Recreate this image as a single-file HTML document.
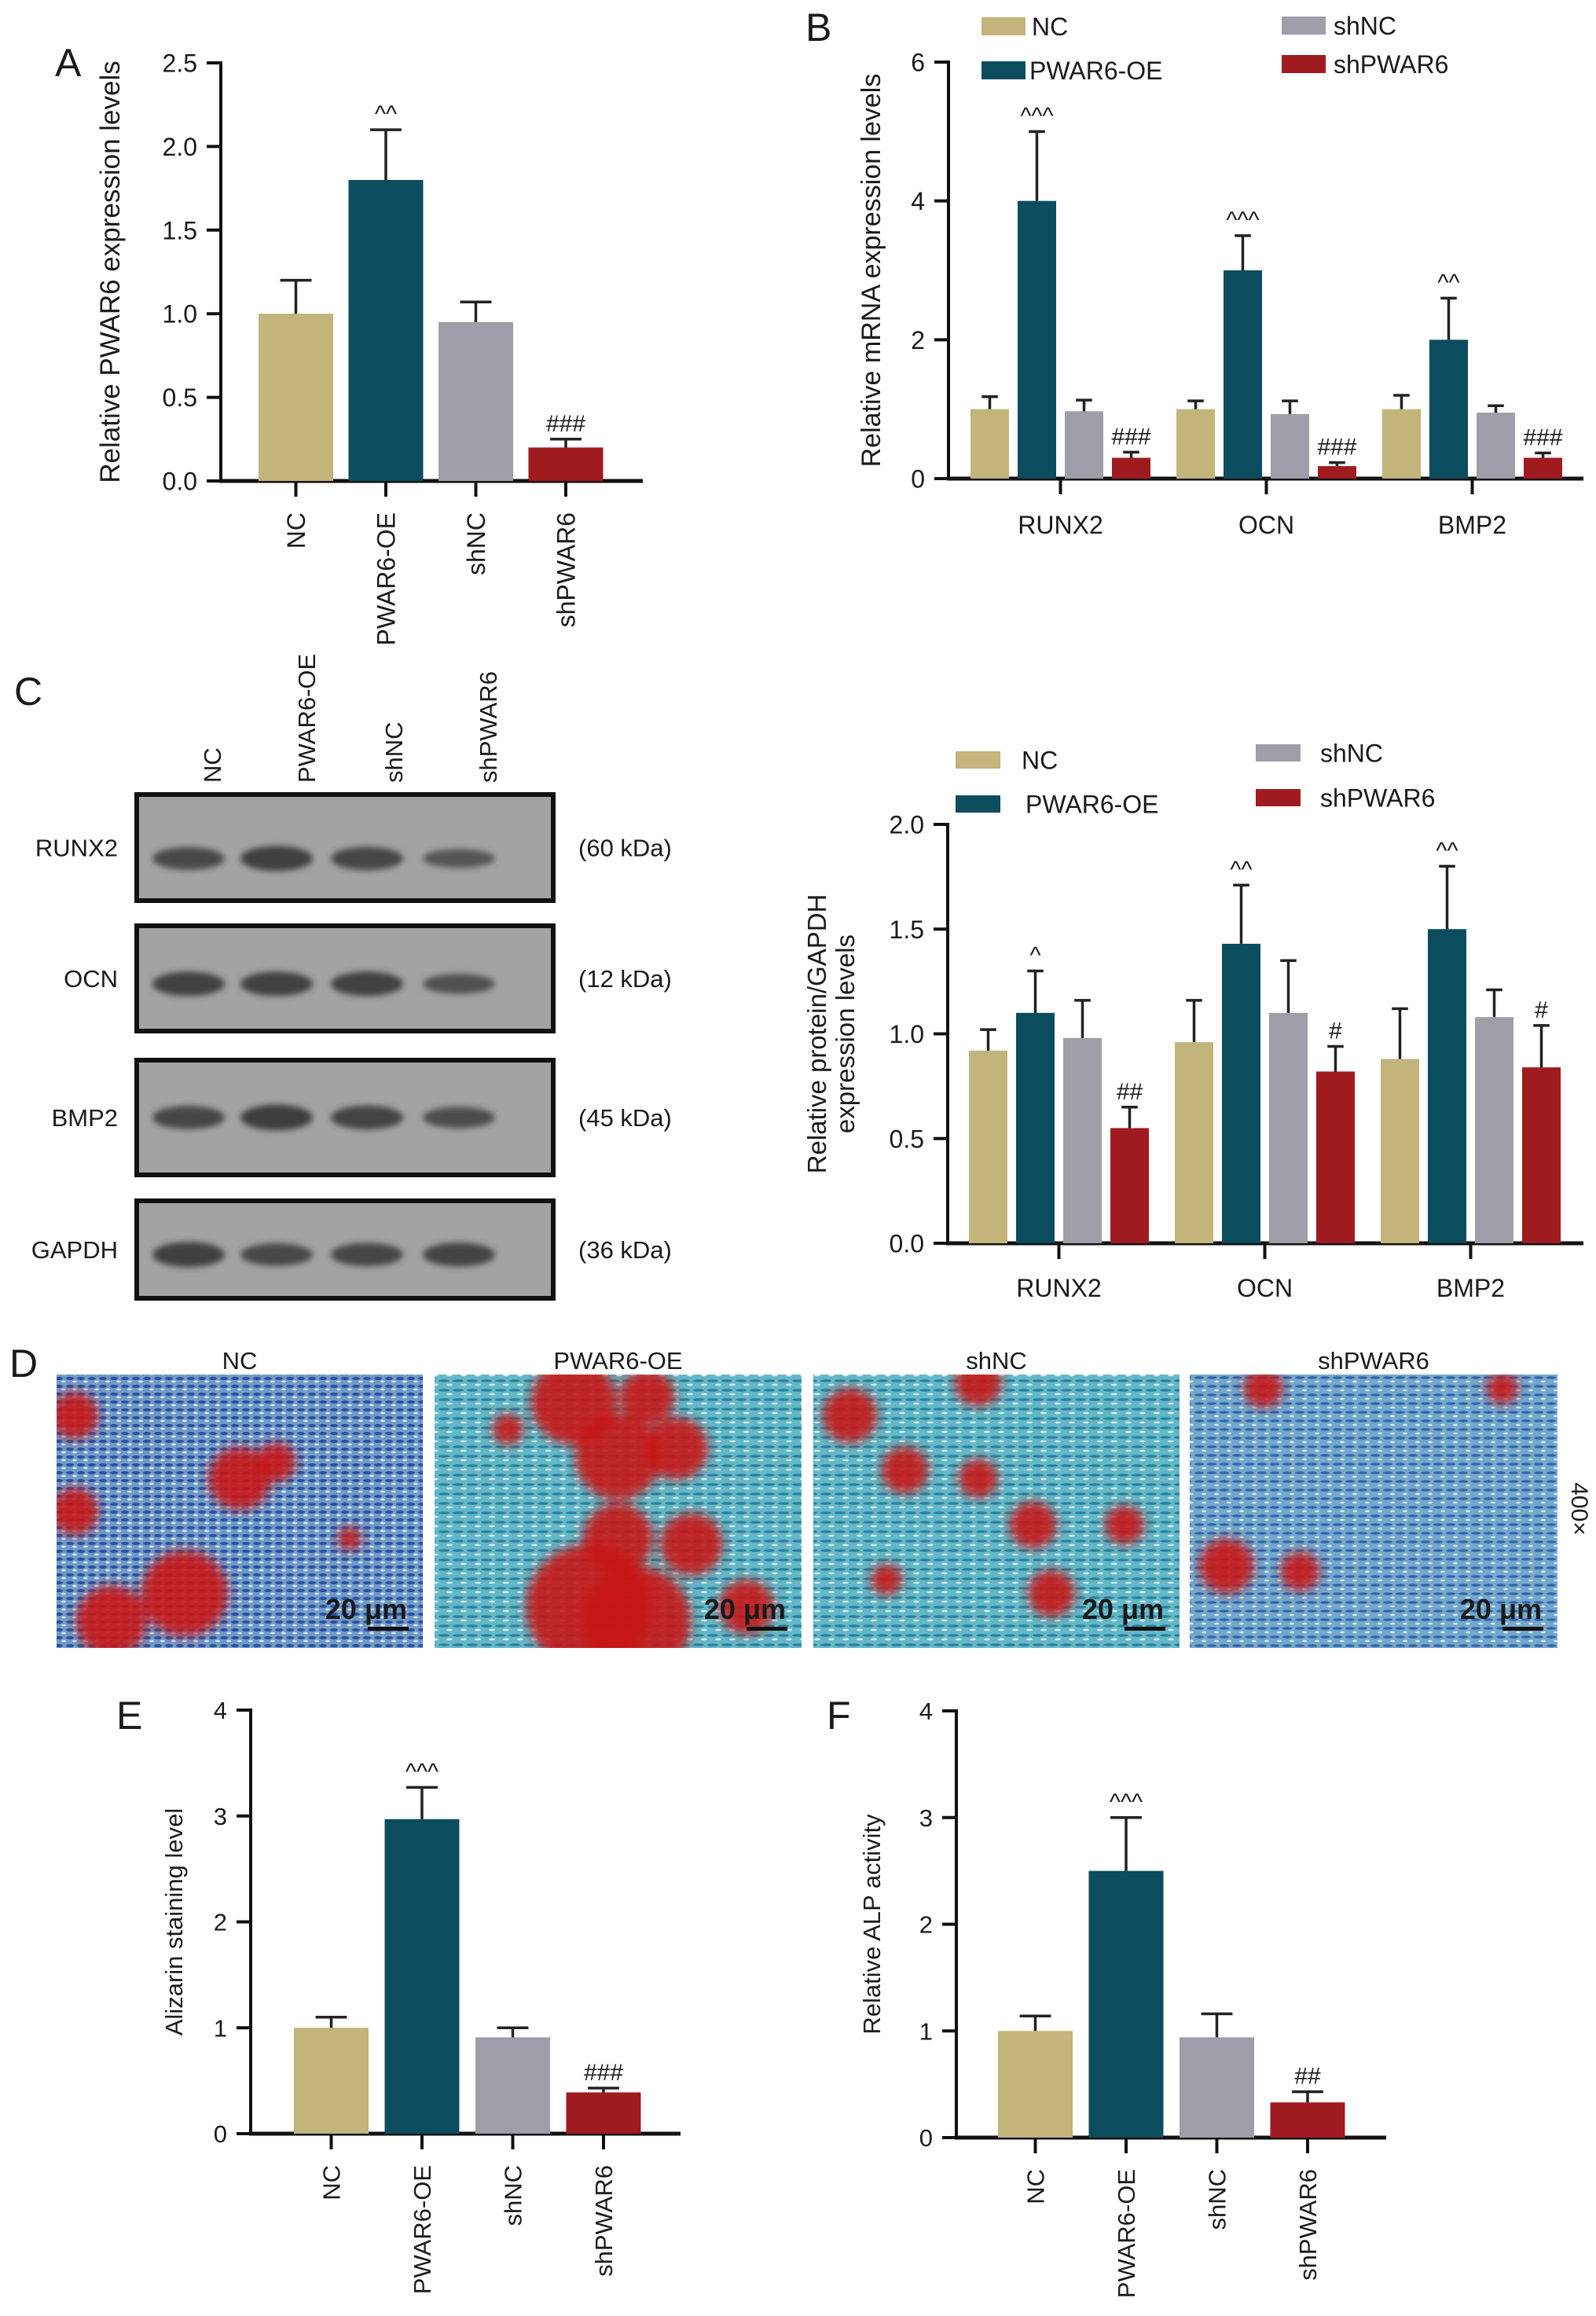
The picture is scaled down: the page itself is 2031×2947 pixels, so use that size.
<!DOCTYPE html>
<html><head><meta charset="utf-8"><style>
html,body{margin:0;padding:0;background:#fff}
svg{display:block}
text{font-family:"Liberation Sans",Arial,sans-serif;fill:#1a1a1a}
</style></head><body>
<svg id="fig" width="2031" height="2947" viewBox="0 0 2031 2947" xmlns="http://www.w3.org/2000/svg">
<defs>
<filter id="blur4" x="-20%" y="-50%" width="140%" height="200%"><feGaussianBlur stdDeviation="4"/></filter>
<filter id="blur8" x="-50%" y="-50%" width="200%" height="200%"><feGaussianBlur stdDeviation="7"/></filter>
<pattern id="cellsA" width="14" height="10" patternUnits="userSpaceOnUse"><rect width="14" height="10" fill="#6f9ac8"/><ellipse cx="5" cy="4" rx="5" ry="2" fill="#2a4fa0"/><ellipse cx="11" cy="8" rx="3" ry="1.5" fill="#d8e4ee"/></pattern>
<pattern id="cellsB" width="18" height="12" patternUnits="userSpaceOnUse"><rect width="18" height="12" fill="#63b8c8"/><ellipse cx="7" cy="5" rx="7" ry="1.8" fill="#2f7f99"/><ellipse cx="14" cy="10" rx="4" ry="1.4" fill="#d6eef2"/></pattern>
<pattern id="cellsC" width="16" height="11" patternUnits="userSpaceOnUse"><rect width="16" height="11" fill="#72a8cc"/><ellipse cx="6" cy="4" rx="6" ry="1.8" fill="#3563a8"/><ellipse cx="12" cy="9" rx="3" ry="1.4" fill="#d9e6ee"/></pattern>
<clipPath id="clip0"><rect x="72" y="1749" width="466" height="348"/></clipPath>
<clipPath id="clip1"><rect x="553" y="1749" width="467" height="348"/></clipPath>
<clipPath id="clip2"><rect x="1035" y="1749" width="466" height="348"/></clipPath>
<clipPath id="clip3"><rect x="1514" y="1749" width="468" height="348"/></clipPath>
</defs>
<g id="root"></g>
</svg>
<script>
// ---------- data ----------
const groups = ["NC","PWAR6-OE","shNC","shPWAR6"];
const colors = ["#c2b47a","#0b4d5e","#9e9ea8","#a01b20"];
const genes = ["RUNX2","OCN","BMP2"];
// Panel A
const aVals = [1.0,1.8,0.95,0.2];
const aErr  = [1.2,2.1,1.07,0.25];
const aSig  = ["","^^","","###"];
const aTicks = ["0.0","0.5","1.0","1.5","2.0","2.5"];
// Panel B (rows = genes, cols = groups)
const bVals = [[1,4,0.97,0.3],[1,3,0.93,0.18],[1,2,0.95,0.3]];
const bErr  = [[1.18,5.0,1.13,0.38],[1.12,3.5,1.12,0.23],[1.2,2.6,1.05,0.37]];
const bSig  = [["","^^^","","###"],["","^^^","","###"],["","^^","","###"]];
const bTicks = ["0","2","4","6"];
// Panel C chart
const cVals = [[0.92,1.1,0.98,0.55],[0.96,1.43,1.1,0.82],[0.88,1.5,1.08,0.84]];
const cErr  = [[1.02,1.3,1.16,0.65],[1.16,1.71,1.35,0.94],[1.12,1.8,1.21,1.04]];
const cSig  = [["","^","","##"],["","^^","","#"],["","^^","","#"]];
const cTicks = ["0.0","0.5","1.0","1.5","2.0"];
// Panel E
const eVals = [1.0,2.97,0.91,0.39];
const eErr  = [1.1,3.27,1.0,0.43];
const eSig  = ["","^^^","","###"];
// Panel F
const fVals = [1.0,2.5,0.94,0.33];
const fErr  = [1.14,3.0,1.16,0.43];
const fSig  = ["","^^^","","##"];
const efTicks = ["0","1","2","3","4"];
// Blots
const blotNames = ["RUNX2","OCN","BMP2","GAPDH"];
const blotKda = ["(60 kDa)","(12 kDa)","(45 kDa)","(36 kDa)"];
const blotBand = [[0.8,1.0,0.85,0.5],[0.95,0.95,0.95,0.6],[0.85,1.05,0.9,0.7],[1.0,0.8,0.85,0.9]];

// ---------- helpers ----------
const NS="http://www.w3.org/2000/svg";
const root=document.getElementById('root');
function mk(tag,attrs,parent){const e=document.createElementNS(NS,tag);for(const k in attrs)e.setAttribute(k,attrs[k]);(parent||root).appendChild(e);return e;}
function txt(s,attrs,parent){const e=mk('text',attrs,parent);e.textContent=s;return e;}
function yScale(y0px,y1px,max){return v=>y0px-(v/max)*(y0px-y1px);}

function drawAxisY(g,ax,y0,y1,ticks,max,fs,title,titleX,tfs){
  const y=yScale(y0,y1,max);
  const l=mk('line',{x1:ax,y1:y1-2,x2:ax,y2:y0+2,stroke:'#111','stroke-width':4},g);
  
  
  ticks.forEach(t=>{
    const v=parseFloat(t);
    const tl=mk('line',{x1:ax-18,y1:y(v),x2:ax,y2:y(v),stroke:'#111','stroke-width':4},g);
    
    
    const tt=txt(t,{x:ax-30,y:y(v)+fs*0.36,'font-size':fs,'text-anchor':'end'},g);
    
    
  });
  const lines=title.split('\n');
  lines.forEach((ln,i)=>{
    const cx=titleX+(i-(lines.length-1)/2)*tfs*1.1;
    const tt=txt(ln,{x:cx,y:(y0+y1)/2,'font-size':tfs,'text-anchor':'middle',transform:`rotate(-90 ${cx} ${(y0+y1)/2})`},g);
    
    
  });
  return y;
}
function bar(g,x,w,v,e,sig,y,col,fs){
  const r=mk('rect',{x:x,y:y(v),width:w,height:y(0)-y(v),fill:col},g);
  
  
  const cx=x+w/2, cw=w*0.42;
  const eb=mk('path',{d:`M${cx} ${y(v)}V${y(e)}M${cx-cw/2} ${y(e)}H${cx+cw/2}`,stroke:'#222','stroke-width':3.5,fill:'none'},g);
  
  
  if(sig){
    const st=txt(sig,{x:cx,y:y(e)-10,'font-size':fs,'text-anchor':'middle','font-family':'Liberation Serif, serif'},g);
    
    
  }
}
function panelLetter(s,x,y){const t=txt(s,{x:x,y:y,'font-size':50});}

function simpleChart(name,o){
  const g=mk('g',{});
  
  
  const y=drawAxisY(g,o.ax,o.y0,o.y1,o.ticks,o.max,o.fs,o.title,o.titleX,o.tfs);
  const xa=mk('line',{x1:o.ax-2,y1:o.y0,x2:o.xEnd,y2:o.y0,stroke:'#111','stroke-width':5},g);
  
  
  groups.forEach((c,i)=>{
    const x=o.bx0+i*o.step;
    bar(g,x,o.bw,o.vals[i],o.err[i],o.sig[i],y,colors[i],o.sfs);
    const cx=x+o.bw/2;
    const tk=mk('line',{x1:cx,y1:o.y0,x2:cx,y2:o.y0+20,stroke:'#111','stroke-width':4},g);
    
    
    const lt=txt(c,{x:cx+o.fs*0.36,y:o.y0+40,'font-size':o.fs,'text-anchor':'end',transform:`rotate(-90 ${cx+o.fs*0.36} ${o.y0+40})`},g);
    
    
  });
}
function groupedChart(name,o){
  const g=mk('g',{});
  
  
  const y=drawAxisY(g,o.ax,o.y0,o.y1,o.ticks,o.max,o.fs,o.title,o.titleX,o.tfs);
  const xa=mk('line',{x1:o.ax-2,y1:o.y0,x2:o.xEnd,y2:o.y0,stroke:'#111','stroke-width':5},g);
  
  
  genes.forEach((gn,gi)=>{
    const gx=o.gx0+gi*o.gstep;
    groups.forEach((c,i)=>{
      bar(g,gx+i*o.step,o.bw,o.vals[gi][i],o.err[gi][i],o.sig[gi][i],y,colors[i],o.sfs);
    });
    const cx=gx+(3*o.step+o.bw)/2;
    const tk=mk('line',{x1:cx,y1:o.y0,x2:cx,y2:o.y0+20,stroke:'#111','stroke-width':4},g);
    
    
    const lt=txt(gn,{x:cx,y:o.y0+o.labDy,'font-size':o.fs,'text-anchor':'middle'},g);
    
    
  });
  o.leg.forEach((L,i)=>{
    const r=mk('rect',{x:L[0],y:L[1],width:o.sw,height:o.sh,fill:colors[i]},g);
    
    
    const t=txt(groups[i],{x:L[2],y:L[1]+o.sh/2+o.lfs*0.36,'font-size':o.lfs},g);
    
    
  });
}

// Panel A
panelLetter('A',70,97);
simpleChart('panel-a-chart',{ax:281,y0:612,y1:80,max:2.5,ticks:aTicks,fs:32,tfs:35,title:'Relative PWAR6 expression levels',titleX:152,
  xEnd:818,bx0:329,step:114.5,bw:95,vals:aVals,err:aErr,sig:aSig,sfs:30});
// Panel B
panelLetter('B',1025,52);
groupedChart('panel-b-chart',{ax:1207,y0:609,y1:79,max:6,ticks:bTicks,fs:32,tfs:34,title:'Relative mRNA expression levels',titleX:1120,
  xEnd:2015,gx0:1235,gstep:262,step:60,bw:49,vals:bVals,err:bErr,sig:bSig,sfs:30,labDy:70,
  leg:[[1249,22,1313],[1249,78,1310],[1631,21,1697],[1631,70,1697]],sw:56,sh:23,lfs:32});
// Panel C chart
groupedChart('panel-c-chart',{ax:1206,y0:1582,y1:1049,max:2.0,ticks:cTicks,fs:32,tfs:33,title:'Relative protein/GAPDH\nexpression levels',titleX:1069,
  xEnd:2015,gx0:1233,gstep:262,step:60,bw:49,vals:cVals,err:cErr,sig:cSig,sfs:30,labDy:68,
  leg:[[1216,956,1300],[1216,1012,1305],[1598,947,1680],[1598,1004,1680]],sw:57,sh:22,lfs:32});

// Panel C blots
panelLetter('C',18,897);
(function(){
  const g=mk('g',{});
  
  
  const laneX=[240,352,467,584];
  const lx=[270,390,501,621];
  groups.forEach((l,i)=>{
    const t=txt(l,{x:lx[i]+11,y:996,'font-size':31,transform:`rotate(-90 ${lx[i]+11} 996)`},g);
    
    
  });
  const boxes=[[1009,1148],[1176,1314],[1347,1497],[1526,1654]];
  const bandY=[0.6,0.55,0.5,0.55];
  boxes.forEach((b,bi)=>{
    const r=mk('rect',{x:174,y:b[0]+2,width:530,height:b[1]-b[0]-4,fill:'#a3a3a3',stroke:'#111','stroke-width':6},g);
    
    
    const cy=b[0]+(b[1]-b[0])*bandY[bi];
    blotBand[bi].forEach((v,li)=>{
      const e=mk('ellipse',{cx:laneX[li],cy:cy,rx:46,ry:8+8*v,fill:'#3a3a3a',opacity:0.55+0.4*v,filter:'url(#blur4)'},g);
      
      
    });
    const n=txt(blotNames[bi],{x:150,y:(b[0]+b[1])/2+11,'font-size':31,'text-anchor':'end'},g);
    
    
    const k=txt(blotKda[bi],{x:736,y:(b[0]+b[1])/2+11,'font-size':31},g);
    
    
  });
})();

// Panel D micrographs
panelLetter('D',12,1752);
(function(){
  const g=mk('g',{});
  
  
  const imgs=[[72,538,'cellsA'],[553,1020,'cellsB'],[1035,1501,'cellsB'],[1514,1982,'cellsC']];
  const blobs=[
    [[0.05,0.15,30],[0.5,0.38,40],[0.6,0.32,25],[0.35,0.8,55],[0.15,0.9,45],[0.8,0.6,15],[0.05,0.5,30]],
    [[0.38,0.1,55],[0.58,0.08,35],[0.5,0.3,55],[0.66,0.27,40],[0.5,0.6,45],[0.7,0.62,40],[0.42,0.85,80],[0.55,0.9,70],[0.2,0.2,20],[0.85,0.85,35]],
    [[0.1,0.15,35],[0.45,0.03,30],[0.25,0.35,30],[0.45,0.38,25],[0.6,0.55,30],[0.85,0.55,25],[0.65,0.8,30],[0.2,0.75,20]],
    [[0.1,0.7,35],[0.2,0.05,25],[0.3,0.72,25],[0.85,0.05,20]]
  ];
  imgs.forEach((im,i)=>{
    const w=im[1]-im[0], h=2097-1749;
    const r=mk('rect',{x:im[0],y:1749,width:w,height:h,fill:`url(#${im[2]})`},g);
    
    
    const cl=mk('g',{'clip-path':`url(#clip${i})`},g);
    
    
    const cg=mk('g',{filter:'url(#blur8)'},cl);
    
    
    blobs[i].forEach(b=>{
      const c=mk('circle',{cx:im[0]+b[0]*w,cy:1749+b[1]*h,r:b[2],fill:'#c8161a',opacity:0.9},cg);
      
      
    });
    const t=txt(groups[i],{x:(im[0]+im[1])/2,y:1742,'font-size':31,'text-anchor':'middle'},g);
    
    
    const sb=txt('20 μm',{x:im[1]-20,y:2060,'font-size':36,'font-weight':'bold','text-anchor':'end'},g);
    
    
    const sl=mk('rect',{x:im[1]-70,y:2070,width:52,height:5,fill:'#111'},g);
    
    
  });
  const m=txt('400×',{x:2000,y:1920,'font-size':30,transform:'rotate(90 2000 1920)','text-anchor':'middle'},g);
  
  
})();

// Panel E
panelLetter('E',148,2200);
simpleChart('panel-e-chart',{ax:319,y0:2715,y1:2176,max:4,ticks:efTicks,fs:31,tfs:31,title:'Alizarin staining level',titleX:232,
  xEnd:866,bx0:374,step:115.5,bw:95,vals:eVals,err:eErr,sig:eSig,sfs:30});
// Panel F
panelLetter('F',1052,2200);
simpleChart('panel-f-chart',{ax:1217,y0:2720,y1:2177,max:4,ticks:efTicks,fs:31,tfs:31,title:'Relative ALP activity',titleX:1120,
  xEnd:1764,bx0:1270,step:115.5,bw:95,vals:fVals,err:fErr,sig:fSig,sfs:30});
</script>
</body></html>
